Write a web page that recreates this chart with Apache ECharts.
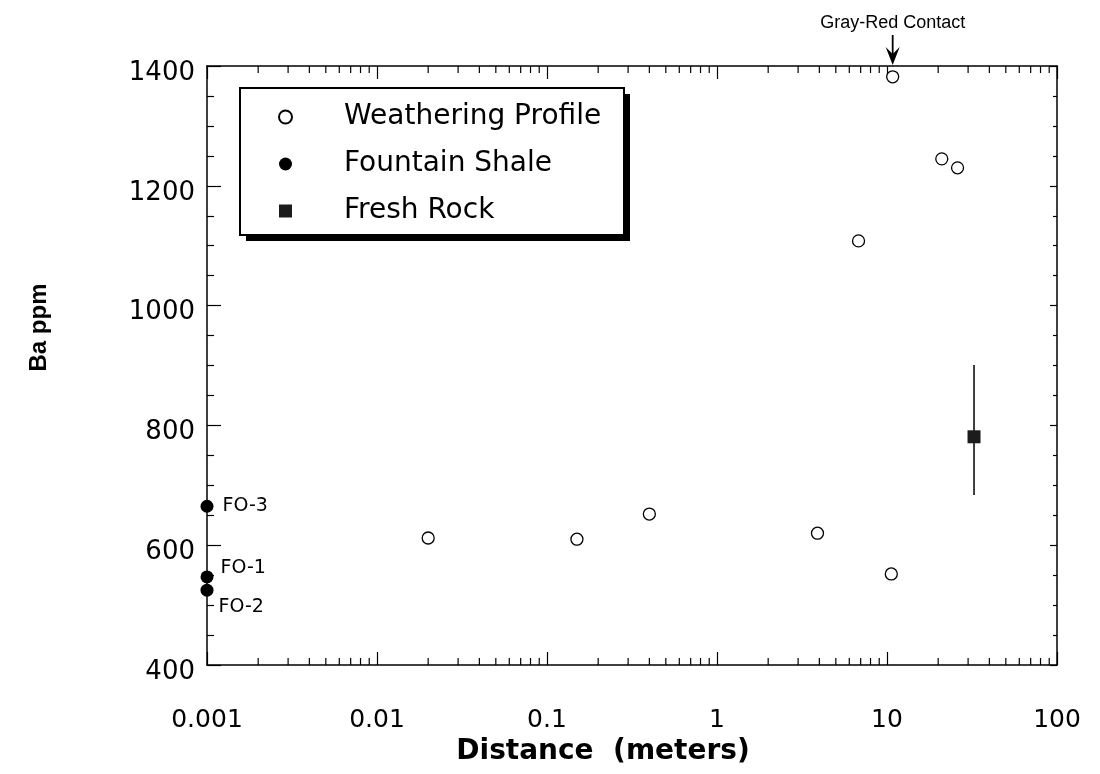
<!DOCTYPE html>
<html>
<head>
<meta charset="utf-8">
<script src="https://cdn.jsdelivr.net/npm/echarts@6/dist/echarts.min.js"></script>
<style>
  html, body { margin: 0; padding: 0; background: #fff; }
  #chart { width: 1100px; height: 774px; }
</style>
</head>
<body>
<div id="chart"></div>
<script>
// Ba concentration versus distance along the weathering profile
const weatheringDistance = [0.02, 0.15, 0.4, 3.9, 10.6, 6.8, 10.8, 21, 26];
const weatheringBa       = [612, 610, 652, 620, 552, 1108, 1382, 1245, 1230];

const shaleDistance = [0.001, 0.001, 0.001];
const shaleBa       = [665, 547, 525];
const shaleLabels   = ['FO-3', 'FO-1', 'FO-2'];

const freshDistance = [32.5];
const freshBa       = [781];
const freshBaLow    = [684];
const freshBaHigh   = [901];

const contactDistance = 10.8;
const contactLabel = 'Gray-Red Contact';

const xTickLabels = ['0.001', '0.01', '0.1', '1', '10', '100'];
const yTicks = [400, 600, 800, 1000, 1200, 1400];
const decadeStarts = [0.001, 0.01, 0.1, 1, 10];
const minorMultipliers = [2, 3, 4, 5, 6, 7, 8, 9];

const labelFont = 'DejaVu Sans';
const xMin = 0.001, xMax = 100;
const yMin = yTicks[0], yMax = yTicks[yTicks.length - 1];

const chart = echarts.init(document.getElementById('chart'), null, { renderer: 'canvas' });

const shaleLabelOffsets = [[4, 0], [2, -9], [0, 17]];

// Legend frame with a solid drop shadow
const legendBox = { x: 240, y: 88, width: 384, height: 147, shadow: 6 };

const option = {
  backgroundColor: '#fff',
  animation: false,
  grid: { left: 207, right: 43, top: 66, bottom: 109, outerBoundsMode: 'none' },
  legend: {
    data: ['Weathering Profile', 'Fountain Shale', 'Fresh Rock'],
    orient: 'vertical',
    left: 278,
    top: 102,
    padding: 0,
    itemGap: 17,
    itemWidth: 13,
    itemHeight: 13,
    selectedMode: false,
    z: 20,
    textStyle: { fontFamily: labelFont, fontSize: 28, lineHeight: 30, color: '#000', padding: [0, 0, 0, 47] }
  },
  xAxis: [
    {
      type: 'log', logBase: 10, min: xMin, max: xMax, splitNumber: 5,
      position: 'bottom',
      name: 'Distance  (meters)', nameLocation: 'middle', nameGap: 72,
      nameTextStyle: { fontFamily: labelFont, fontWeight: 'bold', fontSize: 28, color: '#000', padding: [0, 58, 0, 0] },
      axisLine: { show: true, onZero: false, lineStyle: { color: '#000', width: 1.5 } },
      axisTick: { show: true, inside: true, length: 13, lineStyle: { color: '#000', width: 1.2 } },
      axisLabel: {
        margin: 43, fontFamily: labelFont, fontSize: 25, color: '#000',
        formatter: (v, i) => xTickLabels[i] !== undefined ? xTickLabels[i] : ''
      },
      splitLine: { show: false }
    },
    {
      type: 'log', logBase: 10, min: xMin, max: xMax, splitNumber: 5,
      position: 'top',
      axisLine: { show: true, onZero: false, lineStyle: { color: '#000', width: 1.5 } },
      axisTick: { show: true, inside: true, length: 13, lineStyle: { color: '#000', width: 1.2 } },
      axisLabel: { show: false },
      splitLine: { show: false }
    }
  ],
  yAxis: [
    {
      type: 'value', min: yMin, max: yMax, interval: 200,
      position: 'left',
      name: 'Ba ppm', nameLocation: 'middle', nameGap: 156,
      nameTextStyle: { fontFamily: 'Liberation Sans', fontWeight: 'bold', fontSize: 24, color: '#000', padding: [0, 0, 0, 76] },
      axisLine: { show: true, onZero: false, lineStyle: { color: '#000', width: 1.5 } },
      axisTick: { show: true, inside: true, length: 14, lineStyle: { color: '#000', width: 1.2 } },
      minorTick: { show: true, splitNumber: 4, length: 7, lineStyle: { color: '#000', width: 1.2 } },
      axisLabel: {
        margin: 12, fontFamily: labelFont, fontSize: 26, color: '#000',
        verticalAlign: 'top', lineHeight: 14,
        formatter: v => String(v)
      },
      splitLine: { show: false },
      minorSplitLine: { show: false }
    },
    {
      type: 'value', min: yMin, max: yMax, interval: 200,
      position: 'right',
      axisLine: { show: true, onZero: false, lineStyle: { color: '#000', width: 1.5 } },
      axisTick: { show: true, inside: true, length: 7, lineStyle: { color: '#000', width: 1.2 } },
      minorTick: { show: true, splitNumber: 4, length: 4, lineStyle: { color: '#000', width: 1.2 } },
      axisLabel: { show: false },
      splitLine: { show: false },
      minorSplitLine: { show: false }
    }
  ],
  series: [
    {
      name: 'Weathering Profile',
      type: 'scatter',
      clip: false,
      symbol: 'circle',
      symbolSize: 12,
      itemStyle: { color: '#fff', borderColor: '#000', borderWidth: 1.3, opacity: 1 },
      data: weatheringDistance.map((d, i) => [d, weatheringBa[i]]),
      z: 5
    },
    {
      name: 'Fountain Shale',
      type: 'scatter',
      clip: false,
      symbol: 'circle',
      symbolSize: 13,
      itemStyle: { color: '#000', opacity: 1 },
      data: shaleDistance.map((d, i) => ({
        value: [d, shaleBa[i]],
        label: {
          show: true, position: 'right', formatter: shaleLabels[i],
          offset: shaleLabelOffsets[i],
          fontFamily: labelFont, fontSize: 19, color: '#000'
        }
      })),
      z: 5
    },
    {
      name: 'Fresh Rock',
      type: 'scatter',
      clip: false,
      symbol: 'rect',
      symbolSize: 13,
      itemStyle: { color: '#1c1c1c', opacity: 1 },
      data: freshDistance.map((d, i) => [d, freshBa[i]]),
      z: 6
    },
    {
      name: 'Fresh Rock range',
      type: 'line',
      showSymbol: false,
      symbol: 'none',
      silent: true,
      lineStyle: { color: '#000', width: 1.5 },
      data: [[freshDistance[0], freshBaLow[0]], [freshDistance[0], freshBaHigh[0]]],
      z: 4
    }
  ]
};

chart.setOption(option);

const graphics = [];

// legend frame: black offset block underneath, white bordered box on top
graphics.push({
  type: 'rect', silent: true, z: 15,
  shape: { x: legendBox.x + legendBox.shadow, y: legendBox.y + legendBox.shadow, width: legendBox.width, height: legendBox.height },
  style: { fill: '#000' }
});
graphics.push({
  type: 'rect', silent: true, z: 16,
  shape: { x: legendBox.x, y: legendBox.y, width: legendBox.width, height: legendBox.height },
  style: { fill: '#fff', stroke: '#000', lineWidth: 2 }
});

// log-scale minor ticks on bottom and top axes
const tickLen = 7;
decadeStarts.forEach(base => {
  minorMultipliers.forEach(m => {
    const v = base * m;
    const bottom = chart.convertToPixel({ xAxisIndex: 0, yAxisIndex: 0 }, [v, yMin]);
    const top = chart.convertToPixel({ xAxisIndex: 0, yAxisIndex: 0 }, [v, yMax]);
    graphics.push({
      type: 'line', silent: true, z: 10,
      shape: { x1: bottom[0], y1: bottom[1], x2: bottom[0], y2: bottom[1] - tickLen },
      style: { stroke: '#000', lineWidth: 1.2 }
    });
    graphics.push({
      type: 'line', silent: true, z: 10,
      shape: { x1: top[0], y1: top[1], x2: top[0], y2: top[1] + tickLen },
      style: { stroke: '#000', lineWidth: 1.2 }
    });
  });
});

// contact marker above the plot
const cp = chart.convertToPixel({ xAxisIndex: 0, yAxisIndex: 0 }, [contactDistance, yMax]);
graphics.push({
  type: 'text', silent: true, z: 10,
  style: {
    x: cp[0], y: cp[1] - 43, text: contactLabel,
    fontFamily: 'Liberation Sans', fontSize: 18, fill: '#000',
    align: 'center', verticalAlign: 'middle'
  }
});
graphics.push({
  type: 'line', silent: true, z: 10,
  shape: { x1: cp[0], y1: cp[1] - 31, x2: cp[0], y2: cp[1] - 12 },
  style: { stroke: '#000', lineWidth: 1.8 }
});
graphics.push({
  type: 'polygon', silent: true, z: 10,
  shape: { points: [[cp[0] - 7, cp[1] - 19], [cp[0], cp[1] - 12], [cp[0] + 7, cp[1] - 19], [cp[0], cp[1] - 1]] },
  style: { fill: '#000' }
});

chart.setOption({ graphic: graphics });
</script>
</body>
</html>
